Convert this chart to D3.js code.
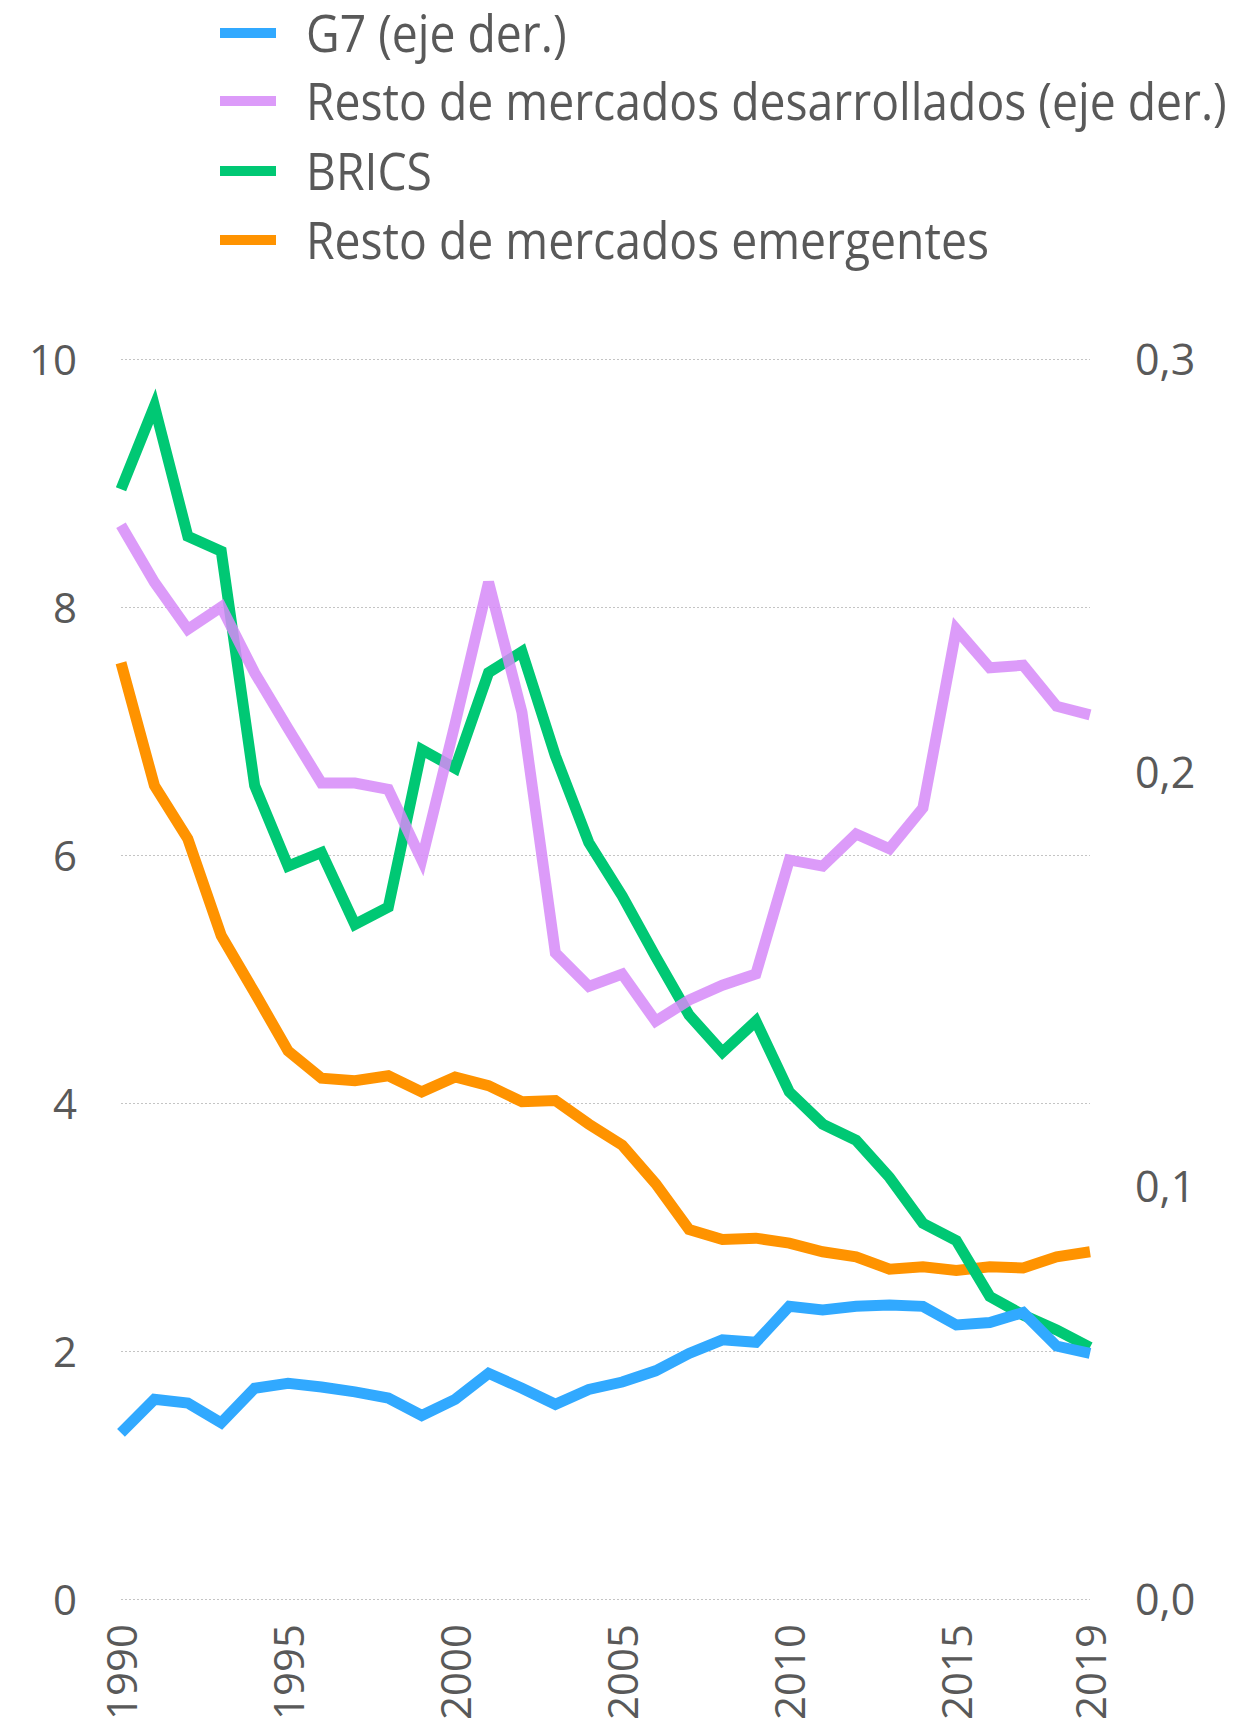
<!DOCTYPE html>
<html>
<head>
<meta charset="utf-8">
<script src="https://d3js.org/d3.v7.min.js"></script>
<style>
  body{margin:0;background:#fff;}
  svg{display:block;}
</style>
</head>
<body>
<svg></svg>
<script>
var years = d3.range(1990, 2020);

// eje izquierdo
var brics = [8.95,9.62,8.57,8.45,6.56,5.91,6.02,5.44,5.58,6.85,
             6.70,7.47,7.64,6.80,6.10,5.67,5.18,4.71,4.41,4.66,
             4.09,3.83,3.70,3.40,3.03,2.89,2.44,2.29,2.17,2.03];
var emergentes = [7.55,6.56,6.13,5.35,4.89,4.42,4.20,4.18,4.22,4.09,
                  4.21,4.14,4.01,4.02,3.83,3.66,3.35,2.98,2.90,2.91,
                  2.87,2.80,2.76,2.66,2.68,2.65,2.68,2.67,2.76,2.80];
// eje derecho
var g7 = [0.0402,0.0483,0.0474,0.0426,0.0510,0.0522,0.0513,0.0501,0.0486,0.0444,
          0.0483,0.0546,0.0510,0.0471,0.0507,0.0525,0.0552,0.0594,0.0627,0.0621,
          0.0708,0.0699,0.0708,0.0711,0.0708,0.0663,0.0669,0.0693,0.0612,0.0594];
var desarrollados = [0.2598,0.2460,0.2346,0.2400,0.2241,0.2106,0.1974,0.1974,0.1959,0.1788,
                     0.2118,0.2460,0.2145,0.1563,0.1482,0.1512,0.1398,0.1449,0.1485,0.1512,
                     0.1788,0.1773,0.1851,0.1815,0.1914,0.2346,0.2253,0.2259,0.2160,0.2139];

var leftTicks = [0,2,4,6,8,10];
var rightTicks = [0,0.1,0.2,0.3];
var yearTicks = [1990,1995,2000,2005,2010,2015,2019];

var legendNames = ["G7 (eje der.)","Resto de mercados desarrollados (eje der.)","BRICS","Resto de mercados emergentes"];
var legendColors = ["#31a9ff","#dc9bf9","#00c874","#ff9300"];

graph();

function graph(){
  var width = 1235;
  var height = 1721;
  var grey = "#595959";
  var font = "'Open Sans',sans-serif";

  var svg = d3.select("svg")
              .attr("width",width)
              .attr("height",height);

  var x = d3.scaleLinear().domain([1990,2019]).range([121,1090]);
  var yL = d3.scaleLinear().domain([0,10]).range([1599,359]);
  var yR = d3.scaleLinear().domain([0,0.3]).range([1599,359]);

  var es = d3.formatLocale({decimal:",",thousands:".",grouping:[3],currency:["","€"]});

  // rejilla
  svg.append("g")
     .selectAll("line")
     .data(leftTicks)
     .enter()
     .append("line")
     .attr("x1",x(1990))
     .attr("x2",x(2019))
     .attr("y1",function(d){return Math.round(yL(d))+0.5;})
     .attr("y2",function(d){return Math.round(yL(d))+0.5;})
     .attr("stroke","#c4c4c4")
     .attr("stroke-width",1)
     .attr("stroke-dasharray","2,2");

  var axL = svg.append("g")
               .attr("transform","translate("+x(1990)+",0)")
               .call(d3.axisLeft(yL).tickValues(leftTicks).tickSize(0).tickPadding(44).tickFormat(d3.format("d")));
  var axR = svg.append("g")
               .attr("transform","translate("+x(2019)+",0)")
               .call(d3.axisRight(yR).tickValues(rightTicks).tickSize(0).tickPadding(45).tickFormat(es.format(".1f")));
  var axX = svg.append("g")
               .attr("transform","translate(0,"+yL(0)+")")
               .call(d3.axisBottom(x).tickValues(yearTicks).tickSize(0).tickFormat(d3.format("d")));

  [axL,axR,axX].forEach(function(a){
    a.select(".domain").remove();
    a.selectAll("text")
     .attr("fill",grey)
     .attr("font-family",font);
  });
  axL.selectAll("text")
     .attr("font-size",42)
     .attr("dy","0.36em");
  axR.selectAll("text")
     .attr("font-size",43)
     .attr("dy","0.36em");
  axX.selectAll("text")
     .attr("font-size",42)
     .attr("transform","rotate(-90)")
     .attr("text-anchor","end")
     .attr("x",-25)
     .attr("y",0)
     .attr("dy","0.36em");

  var series = [
    {vals:emergentes, y:yL, color:legendColors[3], op:1},
    {vals:brics, y:yL, color:legendColors[2], op:1},
    {vals:desarrollados, y:yR, color:"#d68af8", op:0.85},
    {vals:g7, y:yR, color:legendColors[0], op:1}
  ];

  svg.append("g")
     .selectAll("path")
     .data(series)
     .enter()
     .append("path")
     .attr("d",function(s){
       return d3.line()
                .x(function(v,i){return x(years[i]);})
                .y(function(v){return s.y(v);})(s.vals);
     })
     .attr("fill","none")
     .attr("stroke",function(s){return s.color;})
     .attr("stroke-opacity",function(s){return s.op;})
     .attr("stroke-width",11)
     .attr("stroke-linejoin","miter");

  // leyenda
  var rows = [33,101,171,240];
  var leg = svg.append("g")
               .selectAll("g")
               .data(legendNames)
               .enter()
               .append("g")
               .attr("transform",function(d,i){return "translate(0,"+rows[i]+")";});
  leg.append("line")
     .attr("x1",220)
     .attr("x2",276)
     .attr("stroke",function(d,i){return legendColors[i];})
     .attr("stroke-width",10);
  var labels = leg.append("text")
                  .attr("dy","0.36em")
                  .attr("font-family",font)
                  .attr("font-size",52)
                  .attr("fill",grey)
                  .text(function(d){return d;});
  // texto condensado: el más largo debe acabar en x=1227
  var longest = d3.max(labels.nodes(),function(n){return n.getComputedTextLength();});
  var sx = (1227-306)/longest;
  labels.attr("transform","translate(306,0) scale("+sx+",1)");
}
</script>
</body>
</html>
